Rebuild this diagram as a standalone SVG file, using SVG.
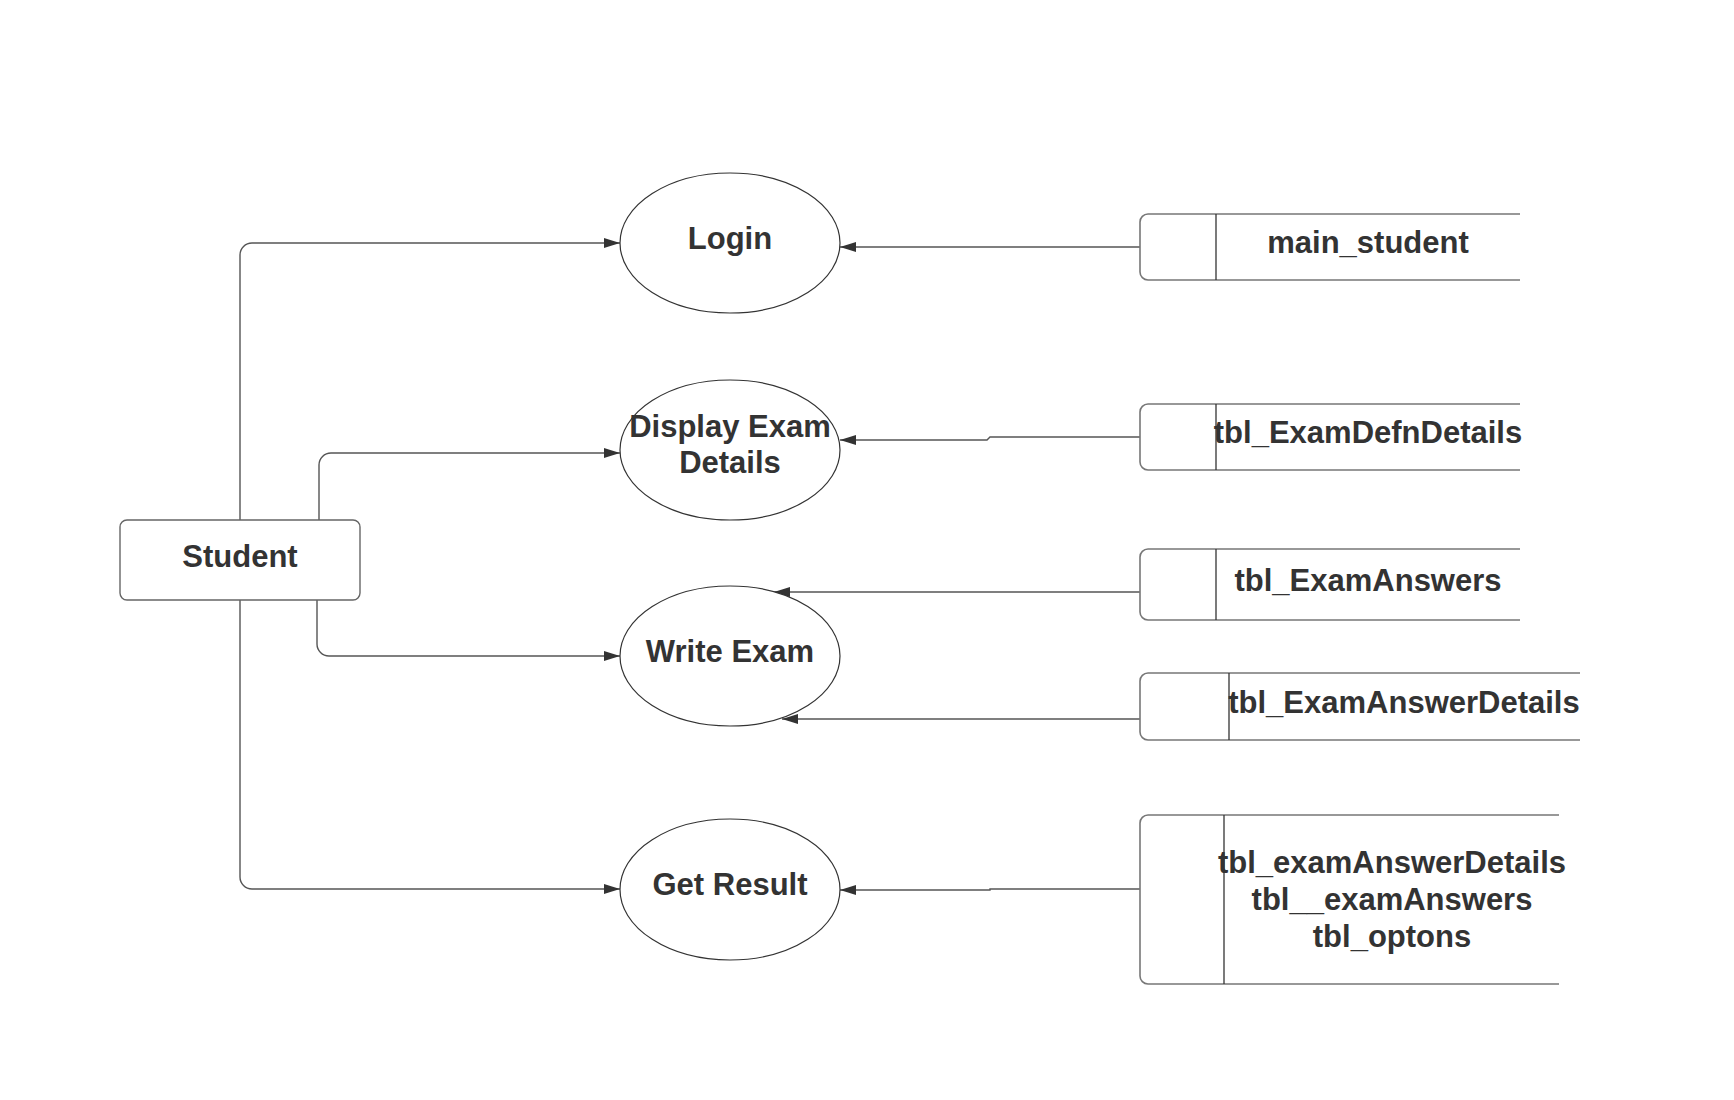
<svg xmlns="http://www.w3.org/2000/svg" width="1734" height="1100" viewBox="0 0 1734 1100">
<style>
.t{font-family:"Liberation Sans",Arial,sans-serif;font-weight:bold;font-size:31px;fill:#333;text-anchor:middle}
.proc{fill:#fff;stroke:#333;stroke-width:1.2}
.ent{fill:#fff;stroke:#666;stroke-width:1.4}
.store{fill:none;stroke:#777;stroke-width:1.6}
.div{stroke:#333;stroke-width:1.3}
.c{fill:none;stroke:#555;stroke-width:1.4}
</style>
<defs>
<marker id="ah" markerUnits="userSpaceOnUse" markerWidth="16" markerHeight="10" refX="16" refY="5" orient="auto">
<path d="M0,0 L16,5 L0,10 z" fill="#333"/>
</marker>
</defs>
<rect width="1734" height="1100" fill="#fff"/>
<g id="connectors">
<path class="c" d="M240,520 V255 A12,12 0 0 1 252,243 H620" marker-end="url(#ah)"/>
<path class="c" d="M319,520 V465 A12,12 0 0 1 331,453 H620" marker-end="url(#ah)"/>
<path class="c" d="M317,600 V644 A12,12 0 0 0 329,656 H620" marker-end="url(#ah)"/>
<path class="c" d="M240,600 V877 A12,12 0 0 0 252,889 H620" marker-end="url(#ah)"/>
<path class="c" d="M1140,247 H840" marker-end="url(#ah)"/>
<path class="c" d="M1140,437 H990 L987,440 H840" marker-end="url(#ah)"/>
<path class="c" d="M1140,592 H774" marker-end="url(#ah)"/>
<path class="c" d="M1140,719 H782" marker-end="url(#ah)"/>
<path class="c" d="M1140,889 H990 V890 H840" marker-end="url(#ah)"/>
</g>
<g id="student">
<rect class="ent" x="120" y="520" width="240" height="80" rx="7"/>
<text class="t" x="240" y="567">Student</text>
</g>
<g id="login">
<ellipse class="proc" cx="730" cy="243" rx="110" ry="70"/>
<text class="t" x="730" y="249">Login</text>
</g>
<g id="display-exam-details">
<ellipse class="proc" cx="730" cy="450" rx="110" ry="70"/>
<text class="t" x="730" y="437">Display Exam</text>
<text class="t" x="730" y="473">Details</text>
</g>
<g id="write-exam">
<ellipse class="proc" cx="730" cy="656" rx="110" ry="70"/>
<text class="t" x="730" y="662">Write Exam</text>
</g>
<g id="get-result">
<ellipse class="proc" cx="730" cy="889.5" rx="110" ry="70.5"/>
<text class="t" x="730" y="895">Get Result</text>
</g>
<g id="main-student">
<path class="store" d="M1520,214 H1148 A8,8 0 0 0 1140,222 V272 A8,8 0 0 0 1148,280 H1520"/>
<line class="div" x1="1216" y1="214" x2="1216" y2="280"/>
<text class="t" x="1368" y="253">main_student</text>
</g>
<g id="tbl-examdefndetails">
<path class="store" d="M1520,404 H1148 A8,8 0 0 0 1140,412 V462 A8,8 0 0 0 1148,470 H1520"/>
<line class="div" x1="1216" y1="404" x2="1216" y2="470"/>
<text class="t" x="1368" y="443">tbl_ExamDefnDetails</text>
</g>
<g id="tbl-examanswers">
<path class="store" d="M1520,549 H1148 A8,8 0 0 0 1140,557 V612 A8,8 0 0 0 1148,620 H1520"/>
<line class="div" x1="1216" y1="549" x2="1216" y2="620"/>
<text class="t" x="1368" y="591">tbl_ExamAnswers</text>
</g>
<g id="tbl-examanswerdetails">
<path class="store" d="M1580,673 H1148 A8,8 0 0 0 1140,681 V732 A8,8 0 0 0 1148,740 H1580"/>
<line class="div" x1="1229" y1="673" x2="1229" y2="740"/>
<text class="t" x="1404" y="713">tbl_ExamAnswerDetails</text>
</g>
<g id="result-tables">
<path class="store" d="M1559,815 H1148 A8,8 0 0 0 1140,823 V976 A8,8 0 0 0 1148,984 H1559"/>
<line class="div" x1="1224" y1="815" x2="1224" y2="984"/>
<text class="t" x="1392" y="873">tbl_examAnswerDetails</text>
<text class="t" x="1392" y="910">tbl__examAnswers</text>
<text class="t" x="1392" y="947">tbl_optons</text>
</g>
</svg>
